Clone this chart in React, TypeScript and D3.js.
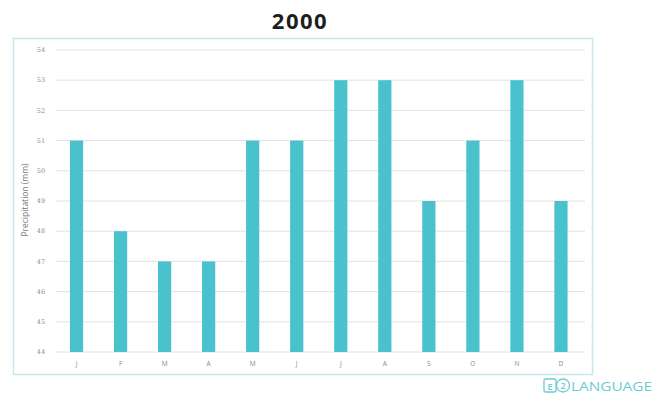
import * as d3 from "d3"

const MONTHS = ["J", "F", "M", "A", "M", "J", "J", "A", "S", "O", "N", "D"]
const PRECIP = [51, 48, 47, 47, 51, 51, 53, 53, 49, 51, 53, 49]
const Y_TICKS = [44, 45, 46, 47, 48, 49, 50, 51, 52, 53, 54]

const W = 662, H = 400
const X0 = 54.5, X1 = 583
const Y_TOP = 50, Y_BOT = 352

export default function App() {
  const keys = MONTHS.map((_, i) => String(i))
  const x = d3.scaleBand<string>().domain(keys).range([X0, X1]).paddingInner(0.7).paddingOuter(0.35)
  const y = d3.scaleLinear().domain([44, 54]).range([Y_BOT, Y_TOP])

  return (
    <svg width={W} height={H} style={{ position: "absolute", left: 0, top: 0, background: "#fff" }}>
      <text x={300} y={29} textAnchor="middle" fontFamily="'Open Sans', sans-serif" fontWeight={700}
        fontSize={22} letterSpacing={1.5} fill="#1e1e1e">2000</text>

      {/* frame */}
      <rect x={13.5} y={38.5} width={579} height={336} fill="none" stroke="#c5e8ec" strokeWidth={1.5} />

      {/* grid + y labels */}
      {Y_TICKS.map(t => (
        <g key={t}>
          <line x1={56} x2={585} y1={y(t)} y2={y(t)} stroke="#e2e2e2" strokeWidth={1} />
          <text x={41} y={y(t)} dy="0.35em" textAnchor="middle" fontFamily="'DejaVu Serif', serif"
            fontSize={6.5} fill="#8a8a8a">{t}</text>
        </g>
      ))}

      <text transform={`translate(28,200) rotate(-90)`} textAnchor="middle" fontFamily="'Open Sans', sans-serif"
        fontSize={8.5} fill="#7a7a7a">Precipitation (mm)</text>

      {/* bars */}
      {PRECIP.map((v, i) => (
        <rect key={i} x={x(String(i))} y={y(v)} width={x.bandwidth()} height={Y_BOT - y(v)} fill="#4ac2ce" />
      ))}

      {/* x labels */}
      {MONTHS.map((m, i) => (
        <text key={i} x={(x(String(i)) ?? 0) + x.bandwidth() / 2} y={366} textAnchor="middle"
          fontFamily="'Open Sans', sans-serif" fontSize={6.5} fill="#8a8a8a">{m}</text>
      ))}

      {/* logo */}
      <g fill="none" stroke="#6ccbd4" strokeWidth={1.3}>
        <rect x={544} y={379} width={12} height={13} rx={1.5} />
        <circle cx={563} cy={385.5} r={6.5} />
      </g>
      <text x={550} y={389.5} textAnchor="middle" fontFamily="'Open Sans', sans-serif" fontSize={9}
        fontWeight={600} fill="#6ccbd4">E</text>
      <text x={563} y={389} textAnchor="middle" fontFamily="'Open Sans', sans-serif" fontSize={9}
        fontWeight={600} fill="#6ccbd4">2</text>
      <text x={571} y={391} fontFamily="'Open Sans', sans-serif" fontSize={13} fill="#6ccbd4"
        textLength={81} lengthAdjust="spacingAndGlyphs">LANGUAGE</text>
    </svg>
  )
}
